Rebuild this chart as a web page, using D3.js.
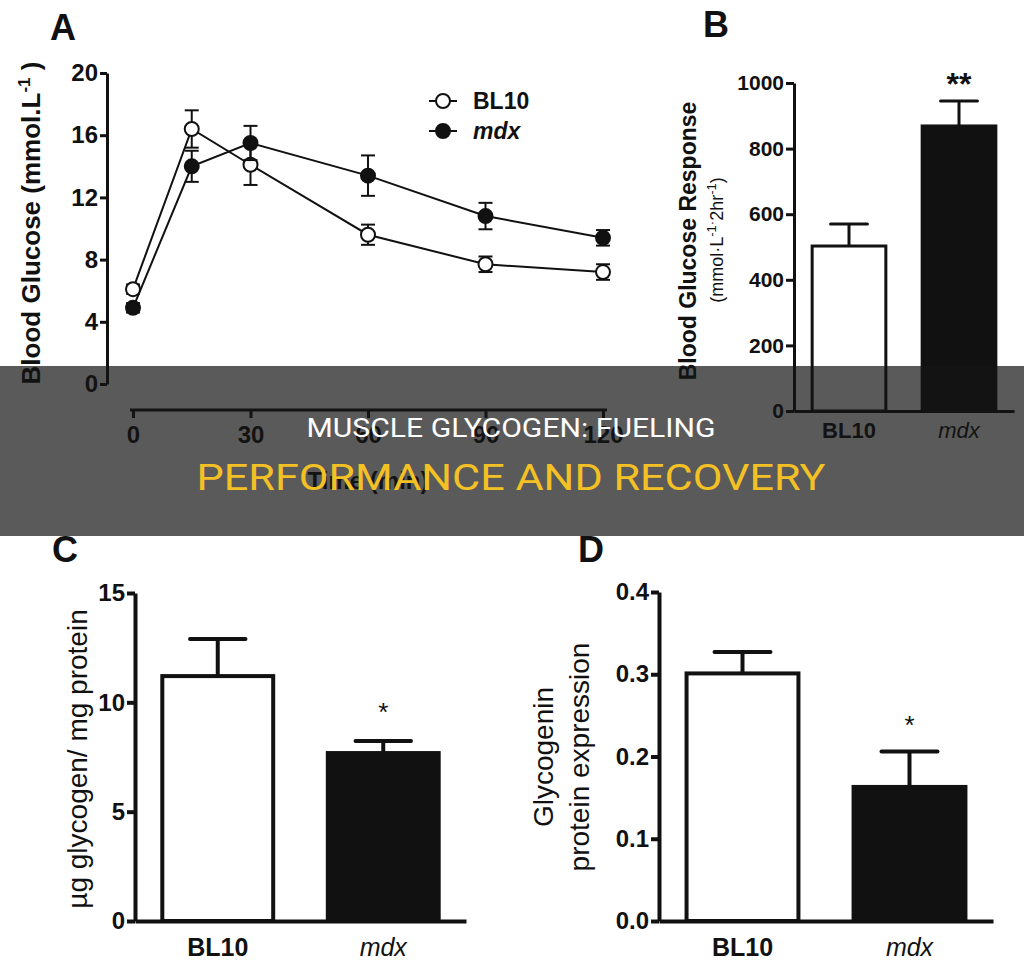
<!DOCTYPE html>
<meta charset="utf-8">
<style>
body { margin: 0; background: #fff; }
svg { display: block; font-family: "Liberation Sans", Arial, sans-serif; }
.axis path, .axis line { stroke: #111; }
.axis text { fill: #111; font-weight: bold; font-family: "Liberation Sans", Arial, sans-serif; }
</style>
<body>
<script src="https://cdn.jsdelivr.net/npm/d3@7/dist/d3.min.js"></script>
<script>

// panel A - glucose tolerance curve
var timePoints = [0, 15, 30, 60, 90, 120];
var bl10Glucose = [6.1, 16.4, 14.1, 9.6, 7.7, 7.2];
var bl10GlucoseSem = [0.3, 1.2, 1.3, 0.65, 0.5, 0.5];
var mdxGlucose = [4.9, 14.0, 15.5, 13.4, 10.8, 9.4];
var mdxGlucoseSem = [0.3, 1.0, 1.1, 1.3, 0.85, 0.5];
var glucoseTicks = [0, 4, 8, 12, 16, 20];
var timeTicks = [0, 30, 60, 90, 120];

// bar panels B, C, D
var groups = ["BL10", "mdx"];
var glucoseResponse = [503, 869];
var glucoseResponseSem = [67, 76];
var responseTicks = [0, 200, 400, 600, 800, 1000];
var glycogen = [11.2, 7.68];
var glycogenSem = [1.7, 0.55];
var glycogenTicks = [0, 5, 10, 15];
var glycogenin = [0.301, 0.163];
var glycogeninSem = [0.026, 0.043];
var glycogeninTicks = [0, 0.1, 0.2, 0.3, 0.4];

var svg = d3.select("body").append("svg")
    .attr("width", 1024)
    .attr("height", 965);

svg.append("rect").attr("width", 1024).attr("height", 965).attr("fill", "#fff");

function panelLetter(txt, x, y) {
    svg.append("text")
        .attr("x", x).attr("y", y)
        .style("font-size", "36px")
        .style("font-weight", "bold")
        .attr("fill", "#111")
        .text(txt);
}

// ---------- A ----------
var xA = d3.scaleLinear().domain([0, 120]).range([133, 603]);
var yA = d3.scaleLinear().domain([0, 20]).range([384, 73]);

var yAxisA = svg.append("g").attr("class", "axis")
    .attr("transform", "translate(107,0)")
    .call(d3.axisLeft(yA).tickValues(glucoseTicks).tickSize(7).tickSizeOuter(0).tickPadding(2));
yAxisA.selectAll("path, line").attr("stroke-width", 3);
yAxisA.selectAll("text").style("font-size", "24px");

var xAxisA = svg.append("g").attr("class", "axis")
    .attr("transform", "translate(0,410)")
    .call(d3.axisBottom(xA).tickValues(timeTicks).tickSize(8).tickSizeOuter(0).tickPadding(8));
xAxisA.select("path").attr("d", "M130,0H607");
xAxisA.selectAll("path, line").attr("stroke-width", 3);
xAxisA.selectAll("text").style("font-size", "24px");

svg.append("text")
    .attr("x", xA(60)).attr("y", 489)
    .attr("text-anchor", "middle")
    .style("font-size", "24px").style("font-weight", "bold")
    .attr("fill", "#111")
    .text("Time (min)");

var titleA = svg.append("text")
    .attr("transform", "translate(40,223) rotate(-90)")
    .attr("text-anchor", "middle")
    .style("font-size", "26px").style("font-weight", "bold")
    .attr("fill", "#111");
titleA.append("tspan").text("Blood Glucose (mmol.L");
titleA.append("tspan").attr("dy", -10).style("font-size", "17px").text("-1");
titleA.append("tspan").attr("dy", 10).text(" )");

var seriesA = [
    {name: "BL10", mean: bl10Glucose, sem: bl10GlucoseSem, fill: "#fff"},
    {name: "mdx", mean: mdxGlucose, sem: mdxGlucoseSem, fill: "#111"}
];

var lineA = d3.line()
    .x(function(d, i) { return xA(timePoints[i]); })
    .y(function(d) { return yA(d); });

seriesA.forEach(function(s) {
    svg.append("path").datum(s.mean)
        .attr("fill", "none").attr("stroke", "#111").attr("stroke-width", 2)
        .attr("d", lineA);
});

seriesA.forEach(function(s) {
    var g = svg.append("g").attr("stroke", "#111").attr("stroke-width", 2);
    s.mean.forEach(function(m, i) {
        var x = xA(timePoints[i]);
        var top = yA(m + s.sem[i]), bot = yA(m - s.sem[i]);
        g.append("line").attr("x1", x).attr("x2", x).attr("y1", top).attr("y2", bot);
        g.append("line").attr("x1", x - 7).attr("x2", x + 7).attr("y1", top).attr("y2", top);
        g.append("line").attr("x1", x - 7).attr("x2", x + 7).attr("y1", bot).attr("y2", bot);
    });
    g.selectAll("circle").data(s.mean).enter().append("circle")
        .attr("cx", function(d, i) { return xA(timePoints[i]); })
        .attr("cy", function(d) { return yA(d); })
        .attr("r", 7)
        .attr("fill", s.fill);
});

// legend
seriesA.forEach(function(s, i) {
    var ly = 101 + i * 30;
    svg.append("line").attr("x1", 429).attr("x2", 457).attr("y1", ly).attr("y2", ly)
        .attr("stroke", "#111").attr("stroke-width", 2);
    svg.append("circle").attr("cx", 443).attr("cy", ly).attr("r", 7)
        .attr("fill", s.fill).attr("stroke", "#111").attr("stroke-width", 2);
    svg.append("text").attr("x", 473).attr("y", ly + 8)
        .style("font-size", "23px").style("font-weight", "bold")
        .style("font-style", s.name == "mdx" ? "italic" : "normal")
        .attr("fill", "#111")
        .text(s.name);
});

panelLetter("A", 50, 40);

// ---------- bar panels ----------
function barPanel(p) {
    var y = d3.scaleLinear().domain(p.domain).range([p.y0, p.y1]);
    var x = d3.scaleBand().domain(groups).range([p.x0, p.x1]);
    var bw = x.bandwidth() * 0.67;

    var yAxis = svg.append("g").attr("class", "axis")
        .attr("transform", "translate(" + p.x0 + ",0)")
        .call(d3.axisLeft(y).tickValues(p.ticks).tickFormat(d3.format(p.fmt))
            .tickSize(8).tickSizeOuter(0).tickPadding(2));
    yAxis.selectAll("path, line").attr("stroke-width", p.sw);
    yAxis.selectAll("text").style("font-size", p.tickFont + "px");

    svg.selectAll(null).data(p.values).enter().append("rect")
        .attr("x", function(d, i) { return x(groups[i]) + (x.bandwidth() - bw) / 2; })
        .attr("y", function(d) { return y(d); })
        .attr("width", bw)
        .attr("height", function(d) { return y(0) - y(d); })
        .attr("fill", function(d, i) { return i == 0 ? "#fff" : "#111"; })
        .attr("stroke", "#111")
        .attr("stroke-width", p.sw);

    p.values.forEach(function(v, i) {
        var cx = x(groups[i]) + x.bandwidth() / 2;
        var top = y(v + p.sem[i]);
        svg.append("line").attr("x1", cx).attr("x2", cx).attr("y1", y(v)).attr("y2", top)
            .attr("stroke", "#111").attr("stroke-width", p.sw);
        svg.append("line").attr("x1", cx - bw / 4).attr("x2", cx + bw / 4).attr("y1", top).attr("y2", top)
            .attr("stroke", "#111").attr("stroke-width", p.sw).attr("stroke-linecap", "round");
    });

    var xAxis = svg.append("g").attr("class", "axis")
        .attr("transform", "translate(0," + p.y0 + ")")
        .call(d3.axisBottom(x).tickSize(0).tickSizeOuter(0).tickPadding(p.labPad));
    xAxis.select("path").attr("stroke-width", p.sw);
    xAxis.selectAll("text")
        .style("font-size", p.labFont + "px")
        .style("font-style", function(d) { return d == "mdx" ? "italic" : "normal"; })
        .style("font-weight", function(d) { return d == "mdx" ? "normal" : "bold"; });

    // significance stars
    svg.append("text")
        .attr("x", x("mdx") + x.bandwidth() / 2)
        .attr("y", y(p.values[1] + p.sem[1]) - p.starGap)
        .attr("text-anchor", "middle")
        .style("font-size", p.starFont + "px")
        .style("font-weight", p.starBold ? "bold" : "normal")
        .attr("fill", "#111")
        .text(p.star);
    return {x: x, y: y};
}

// B
barPanel({domain: [0, 1000], ticks: responseTicks, fmt: "d", values: glucoseResponse, sem: glucoseResponseSem,
    x0: 794, x1: 1014, y0: 411, y1: 83, sw: 3, tickFont: 21, labFont: 22, labPad: 11,
    star: "**", starFont: 32, starBold: true, starGap: 6});

svg.append("text")
    .attr("transform", "translate(696,241) rotate(-90)")
    .attr("text-anchor", "middle")
    .style("font-size", "23px").style("font-weight", "bold")
    .attr("fill", "#111")
    .text("Blood Glucose  Response");
var subB = svg.append("text")
    .attr("transform", "translate(723,240) rotate(-90)")
    .attr("text-anchor", "middle")
    .style("font-size", "18px")
    .attr("fill", "#111");
subB.append("tspan").text("(mmol·L");
subB.append("tspan").attr("dy", -7).style("font-size", "13px").text("-1·");
subB.append("tspan").attr("dy", 7).text("2hr");
subB.append("tspan").attr("dy", -7).style("font-size", "13px").text("-1");
subB.append("tspan").attr("dy", 7).text(")");

panelLetter("B", 703, 37);

// C
barPanel({domain: [0, 15], ticks: glycogenTicks, fmt: "d", values: glycogen, sem: glycogenSem,
    x0: 135, x1: 466, y0: 921, y1: 593, sw: 4, tickFont: 24, labFont: 25, labPad: 17,
    star: "*", starFont: 26, starBold: false, starGap: 20});

svg.append("text")
    .attr("transform", "translate(87,759) rotate(-90)")
    .attr("text-anchor", "middle")
    .style("font-size", "28px")
    .attr("fill", "#111")
    .text("µg glycogen/ mg protein");

panelLetter("C", 52, 562);

// D
barPanel({domain: [0, 0.4], ticks: glycogeninTicks, fmt: ".1f", values: glycogenin, sem: glycogeninSem,
    x0: 659, x1: 993, y0: 921, y1: 592, sw: 4, tickFont: 24, labFont: 25, labPad: 17,
    star: "*", starFont: 26, starBold: false, starGap: 18});

svg.append("text")
    .attr("transform", "translate(553,757) rotate(-90)")
    .attr("text-anchor", "middle")
    .style("font-size", "28px")
    .attr("fill", "#111")
    .text("Glycogenin");
svg.append("text")
    .attr("transform", "translate(589,757) rotate(-90)")
    .attr("text-anchor", "middle")
    .style("font-size", "28px")
    .attr("fill", "#111")
    .text("protein expression");

panelLetter("D", 578, 562);

// banner over the middle
svg.append("rect")
    .attr("x", 0).attr("y", 366)
    .attr("width", 1024).attr("height", 170)
    .attr("fill", "rgba(20,20,20,0.7)");

svg.append("text")
    .attr("x", 511).attr("y", 437)
    .attr("text-anchor", "middle")
    .attr("textLength", 409).attr("lengthAdjust", "spacingAndGlyphs")
    .style("font-family", "Roboto, sans-serif")
    .style("font-size", "26px")
    .attr("fill", "#fff")
    .text("MUSCLE GLYCOGEN: FUELING");

svg.append("text")
    .attr("x", 511).attr("y", 490)
    .attr("text-anchor", "middle")
    .attr("textLength", 629).attr("lengthAdjust", "spacingAndGlyphs")
    .style("font-family", "Roboto, sans-serif")
    .style("font-size", "37px")
    .attr("fill", "#f4c124")
    .text("PERFORMANCE AND RECOVERY");

</script>
</body>
